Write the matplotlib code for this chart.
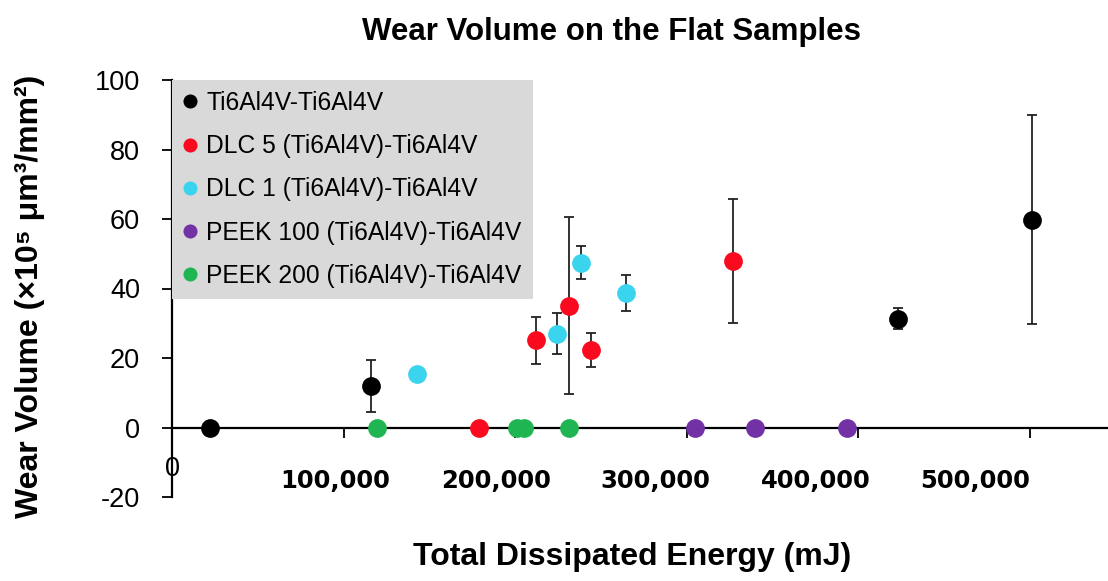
import matplotlib
matplotlib.use("Agg")
import matplotlib.pyplot as plt

plt.rcParams['font.family'] = ['Liberation Sans', 'DejaVu Sans']
plt.rcParams['axes.unicode_minus'] = False

# wear volume (x10^5 um^3/mm^2) against total dissipated energy (mJ)
ti_x = [22100, 115800, 422900, 501000]
ti_y = [0, 11.9, 31.3, 59.8]
ti_err = [0, 7.4, 3.0, 30.0]

dlc5_x = [178900, 212100, 231300, 244000, 327100]
dlc5_y = [0, 25.1, 35.1, 22.3, 47.9]
dlc5_err = [0, 6.8, 25.5, 4.8, 17.8]

dlc1_x = [143000, 224500, 238200, 264400]
dlc1_y = [15.3, 27.0, 47.4, 38.8]
dlc1_err = [0, 5.9, 4.7, 5.2]

peek100_x = [304800, 339900, 393500]
peek100_y = [0, 0, 0]

peek200_x = [119300, 200900, 205100, 231200]
peek200_y = [0, 0, 0, 0]

xticks = [100000, 200000, 300000, 400000, 500000]
xtick_labels = ['100,000', '200,000', '300,000', '400,000', '500,000']
xlabel_pos = [95000, 188800, 281500, 375300, 468000]
yticks = [-20, 0, 20, 40, 60, 80, 100]

series = [
    (ti_x, ti_y, ti_err, '#000000', 'Ti6Al4V-Ti6Al4V'),
    (dlc5_x, dlc5_y, dlc5_err, '#fa0a1e', 'DLC 5 (Ti6Al4V)-Ti6Al4V'),
    (dlc1_x, dlc1_y, dlc1_err, '#3ad4ee', 'DLC 1 (Ti6Al4V)-Ti6Al4V'),
    (peek100_x, peek100_y, None, '#7232a6', 'PEEK 100 (Ti6Al4V)-Ti6Al4V'),
    (peek200_x, peek200_y, None, '#1fb552', 'PEEK 200 (Ti6Al4V)-Ti6Al4V'),
]

fig = plt.figure(figsize=(11.08, 5.81), dpi=100)
ax = fig.add_axes([172 / 1108, 1 - 497 / 581, 936 / 1108, 417 / 581])

for xs, ys, errs, color, label in series:
    if errs is not None:
        ax.errorbar(xs, ys, yerr=errs, fmt='none', ecolor='#222222',
                    elinewidth=1.3, capsize=3.6, capthick=1.3, zorder=2.8)
    ax.plot(xs, ys, 'o', color=color, ms=13.5, mec='none', label=label,
            zorder=3, clip_on=False)

ax.set_xlim(0, 545500)
ax.set_ylim(-20, 100)

ax.spines['top'].set_visible(False)
ax.spines['right'].set_visible(False)
ax.spines['bottom'].set_position(('data', 0))
for s in ('left', 'bottom'):
    ax.spines[s].set_linewidth(1.6)

ax.set_yticks(yticks)
ax.tick_params(axis='y', direction='out', length=7, width=1.3, pad=16,
               labelsize=19.5)
ax.set_xticks(xticks)
ax.set_xticklabels([])
ax.tick_params(axis='x', direction='out', length=7, width=1.3)

# tick labels for the energy axis
for pos, txt in zip(xlabel_pos, xtick_labels):
    ax.text(pos, -15.3, txt, ha='center', va='center', fontsize=17.5,
            fontweight='bold', family='DejaVu Sans')
ax.text(0, -12.0, '0', ha='center', va='center', fontsize=19.5)

leg = ax.legend(loc='upper left', bbox_to_anchor=(0, 1), borderaxespad=0,
                fontsize=17.7, markerscale=0.75, handlelength=0.6,
                handletextpad=0.35, labelspacing=0.78, borderpad=0.45,
                fancybox=False, framealpha=1, facecolor='#d9d9d9',
                edgecolor='none')

fig.text(611 / 1108, 1 - 32 / 581, 'Wear Volume on the Flat Samples',
         ha='center', va='center', fontsize=22.5, fontweight='bold')
fig.text(632 / 1108, 1 - 557 / 581, 'Total Dissipated Energy (mJ)',
         ha='center', va='center', fontsize=23, fontweight='bold')
fig.text(30 / 1108, 1 - 296 / 581, 'Wear Volume (×10⁵ μm³/mm²)',
         ha='center', va='center', rotation=90, fontsize=23,
         fontweight='bold')

fig.savefig('out.png', dpi=100)
